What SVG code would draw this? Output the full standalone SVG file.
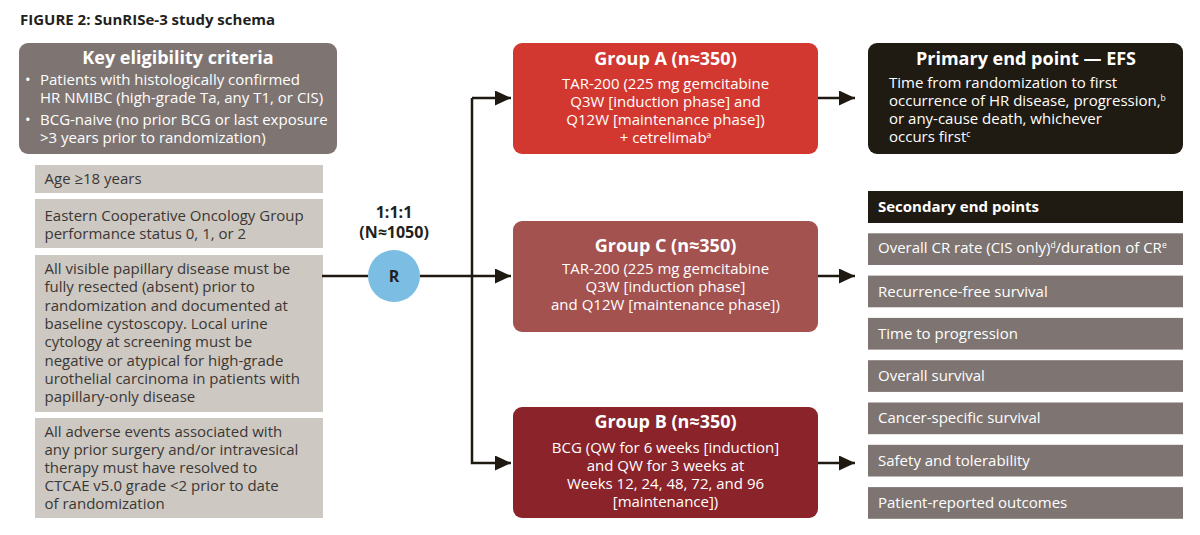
<svg xmlns="http://www.w3.org/2000/svg" width="1200" height="535" viewBox="0 0 1200 535">
<defs>
<style>
text{font-family:"Open Sans","Liberation Sans",sans-serif;}
.title{font-size:15px;font-weight:700;fill:#231f20;}
.h{font-size:18px;font-weight:700;fill:#fff;}
.w{font-size:15px;fill:#fff;}
.d{font-size:15px;fill:#3b3735;}
.c{text-anchor:middle;}
.sup{font-size:8.5px;}
.lbl{font-size:16px;font-weight:700;fill:#231f20;text-anchor:middle;}
.conn{fill:none;stroke:#1e1a12;stroke-width:2.5;}
.light{fill:#cdc8c1;}
.grey{fill:#7e7572;}
.dark{fill:#1f1b12;}
</style>
<marker id="arr" viewBox="0 0 16 15" refX="16" refY="7.5" markerWidth="16" markerHeight="15" markerUnits="userSpaceOnUse" orient="auto">
<path d="M0,0 L16,7.5 L0,15 Z" fill="#1e1a12"/>
</marker>
</defs>
<rect width="1200" height="535" fill="#fff"/>
<text class="title" x="20" y="25">FIGURE 2: SunRISe-3 study schema</text>

<g id="eligibility">
<rect x="19" y="43" width="318" height="111" rx="9" class="grey"/>
<text class="h c" x="178" y="64">Key eligibility criteria</text>
<text class="w" x="25" y="85">•</text>
<text class="w" x="40" y="85">Patients with histologically confirmed</text>
<text class="w" x="40" y="103">HR NMIBC (high-grade Ta, any T1, or CIS)</text>
<text class="w" x="25" y="125">•</text>
<text class="w" x="40" y="125">BCG-naive (no prior BCG or last exposure</text>
<text class="w" x="40" y="143">&gt;3 years prior to randomization)</text>
</g>

<g id="crit-age">
<rect x="35" y="165" width="288" height="28" class="light"/>
<text class="d" x="44.5" y="184">Age ≥18 years</text>
</g>
<g id="crit-ecog">
<rect x="35" y="199" width="288" height="49" class="light"/>
<text class="d" x="44.5" y="221">Eastern Cooperative Oncology Group</text>
<text class="d" x="44.5" y="239">performance status 0, 1, or 2</text>
</g>
<g id="crit-papillary">
<rect x="35" y="255" width="288" height="157" class="light"/>
<text class="d" x="44.5" y="274">All visible papillary disease must be</text>
<text class="d" x="44.5" y="292.3">fully resected (absent) prior to</text>
<text class="d" x="44.5" y="310.6">randomization and documented at</text>
<text class="d" x="44.5" y="328.9">baseline cystoscopy. Local urine</text>
<text class="d" x="44.5" y="347.2">cytology at screening must be</text>
<text class="d" x="44.5" y="365.5">negative or atypical for high-grade</text>
<text class="d" x="44.5" y="383.8">urothelial carcinoma in patients with</text>
<text class="d" x="44.5" y="402.1">papillary-only disease</text>
</g>
<g id="crit-ae">
<rect x="35" y="418" width="288" height="100" class="light"/>
<text class="d" x="44.5" y="437">All adverse events associated with</text>
<text class="d" x="44.5" y="455">any prior surgery and/or intravesical</text>
<text class="d" x="44.5" y="473">therapy must have resolved to</text>
<text class="d" x="44.5" y="491">CTCAE v5.0 grade &lt;2 prior to date</text>
<text class="d" x="44.5" y="509">of randomization</text>
</g>

<g id="connectors">
<path class="conn" d="M322,276 H368"/>
<path class="conn" d="M420,276 H511" marker-end="url(#arr)"/>
<path class="conn" d="M472,98 V463 H511" marker-end="url(#arr)"/>
<path class="conn" d="M472,98 H511" marker-end="url(#arr)"/>
<path class="conn" d="M818,98 H855" marker-end="url(#arr)"/>
<path class="conn" d="M818,276 H855" marker-end="url(#arr)"/>
<path class="conn" d="M818,463 H855" marker-end="url(#arr)"/>
</g>

<g id="randomization">
<text class="lbl" x="394" y="218">1:1:1</text>
<text class="lbl" x="394" y="238">(N≈1050)</text>
<circle cx="394" cy="276" r="26" fill="#7bbde3"/>
<text x="394" y="282" style="font-size:16px;font-weight:700;fill:#231f20;text-anchor:middle">R</text>
</g>

<g id="group-a">
<rect x="513" y="43" width="305" height="111" rx="9" fill="#d2382f"/>
<text class="h c" x="665.5" y="65">Group A (n≈350)</text>
<text class="w c" x="665.5" y="89">TAR-200 (225 mg gemcitabine</text>
<text class="w c" x="665.5" y="107">Q3W [induction phase] and</text>
<text class="w c" x="665.5" y="125">Q12W [maintenance phase])</text>
<text class="w c" x="665.5" y="143">+ cetrelimab<tspan class="sup" dy="-5">a</tspan></text>
</g>

<g id="group-c">
<rect x="513" y="221" width="305" height="111" rx="9" fill="#a4524f"/>
<text class="h c" x="665.5" y="252">Group C (n≈350)</text>
<text class="w c" x="665.5" y="274">TAR-200 (225 mg gemcitabine</text>
<text class="w c" x="665.5" y="292">Q3W [induction phase]</text>
<text class="w c" x="665.5" y="310">and Q12W [maintenance phase])</text>
</g>

<g id="group-b">
<rect x="513" y="407" width="305" height="111" rx="9" fill="#8a232a"/>
<text class="h c" x="665.5" y="428">Group B (n≈350)</text>
<text class="w c" x="665.5" y="453">BCG (QW for 6 weeks [induction]</text>
<text class="w c" x="665.5" y="471">and QW for 3 weeks at</text>
<text class="w c" x="665.5" y="489">Weeks 12, 24, 48, 72, and 96</text>
<text class="w c" x="665.5" y="507">[maintenance])</text>
</g>

<g id="primary">
<rect x="868" y="43" width="315" height="111" rx="9" class="dark"/>
<text class="h c" x="1026" y="65">Primary end point — EFS</text>
<text class="w" x="889" y="88">Time from randomization to first</text>
<text class="w" x="889" y="106">occurrence of HR disease, progression,<tspan class="sup" dy="-5">b</tspan></text>
<text class="w" x="889" y="124">or any-cause death, whichever</text>
<text class="w" x="889" y="142">occurs first<tspan class="sup" dy="-5">c</tspan></text>
</g>

<g id="secondary">
<rect x="868" y="191" width="315" height="32" class="dark"/>
<text x="878" y="212" style="font-size:15px;font-weight:700;fill:#fff">Secondary end points</text>
<rect x="868" y="233.3" width="315" height="31.7" class="grey"/>
<text class="w" x="878" y="253">Overall CR rate (CIS only)<tspan class="sup" dy="-5">d</tspan><tspan dy="5">/duration of CR</tspan><tspan class="sup" dy="-5">e</tspan></text>
<rect x="868" y="275.6" width="315" height="31.7" class="grey"/>
<text class="w" x="878" y="296.5">Recurrence-free survival</text>
<rect x="868" y="317.9" width="315" height="31.7" class="grey"/>
<text class="w" x="878" y="338.8">Time to progression</text>
<rect x="868" y="360.2" width="315" height="31.7" class="grey"/>
<text class="w" x="878" y="381.1">Overall survival</text>
<rect x="868" y="402.5" width="315" height="31.7" class="grey"/>
<text class="w" x="878" y="423.4">Cancer-specific survival</text>
<rect x="868" y="444.8" width="315" height="31.7" class="grey"/>
<text class="w" x="878" y="465.7">Safety and tolerability</text>
<rect x="868" y="487.1" width="315" height="31.7" class="grey"/>
<text class="w" x="878" y="508">Patient-reported outcomes</text>
</g>
</svg>
